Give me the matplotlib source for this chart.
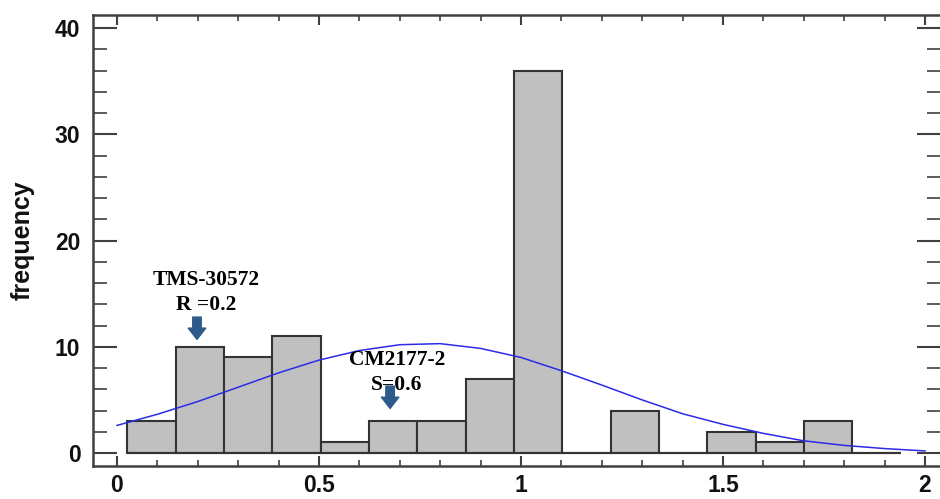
import matplotlib
matplotlib.use("Agg")
import matplotlib.pyplot as plt
import numpy as np
from matplotlib.ticker import MultipleLocator

# histogram bins
bin_edges = [0.025, 0.145, 0.264, 0.384, 0.504, 0.623, 0.743, 0.863, 0.983,
             1.102, 1.222, 1.342, 1.461, 1.581, 1.701, 1.820, 1.940]
counts = [3, 10, 9, 11, 1, 3, 3, 7, 36, 0, 4, 0, 2, 1, 3, 0]

# fitted curve
curve_x = [0.0, 0.1, 0.2, 0.3, 0.4, 0.5, 0.6, 0.7, 0.8, 0.9, 1.0,
           1.1, 1.2, 1.3, 1.4, 1.5, 1.6, 1.7, 1.8, 1.9, 2.0]
curve_y = [2.6, 3.65, 4.85, 6.2, 7.55, 8.75, 9.65, 10.2, 10.3, 9.85, 9.0,
           7.75, 6.4, 5.0, 3.7, 2.7, 1.85, 1.15, 0.72, 0.42, 0.2]

xticks = [0, 0.5, 1, 1.5, 2]
xticklabels = ["0", "0.5", "1", "1.5", "2"]
yticks = [0, 10, 20, 30, 40]

# annotations: (label, text x, text y, arrow x, arrow top, arrow bottom)
notes = [
    ("TMS-30572\nR =0.2", 0.22, 15.1, 0.198, 12.8, 10.7),
    ("CM2177-2\nS=0.6", 0.693, 7.6, 0.676, 6.3, 4.2),
]

SANS = "Liberation Sans"
SERIF = "Liberation Serif"
SPINE = "#404040"

fig = plt.figure(figsize=(9.4, 4.99), dpi=100)
ax = fig.add_axes([93 / 940, 33 / 499, 848 / 940, 451 / 499])

widths = np.diff(bin_edges)
ax.bar(bin_edges[:-1], counts, width=widths, align="edge",
       facecolor="#C0C0C0", edgecolor="#333333", linewidth=1.5, zorder=2)
ax.hlines(0, bin_edges[0], bin_edges[-1], color="#333333", linewidth=1.5, zorder=2)

ax.plot(curve_x, curve_y, color="#2B2BE8", linewidth=1.1, zorder=3)

for label, tx, ty, axx, ytop, ybot in notes:
    ax.text(tx, ty, label, ha="center", va="center", fontsize=15.5,
            fontweight="bold", family=SERIF, linespacing=1.3, zorder=4)
    ax.annotate("", xy=(axx, ybot), xytext=(axx, ytop),
                arrowprops=dict(arrowstyle="simple,head_length=0.45,head_width=0.7,tail_width=0.34",
                                mutation_scale=18, color="#2F5B8C",
                                shrinkA=0, shrinkB=0), zorder=5)

ax.set_xlim(-0.0594, 2.0396)
ax.set_ylim(-1.22, 41.24)

ax.set_xticks(xticks)
ax.set_xticklabels(xticklabels)
ax.set_yticks(yticks)
ax.xaxis.set_minor_locator(MultipleLocator(0.1))
ax.yaxis.set_minor_locator(MultipleLocator(2))

for s in ax.spines.values():
    s.set_color(SPINE)
    s.set_linewidth(1.8)

ax.tick_params(axis="both", which="both", direction="in", colors=SPINE,
               top=True, right=True)
ax.tick_params(axis="x", which="major", length=7, width=1.5, pad=6)
ax.tick_params(axis="x", which="minor", length=4, width=1.2)
ax.tick_params(axis="y", which="major", length=17, width=1.5, pad=9)
ax.tick_params(axis="y", which="minor", length=10, width=1.2)

for lab in ax.get_xticklabels() + ax.get_yticklabels():
    lab.set_fontfamily(SANS)
    lab.set_fontweight("bold")
    lab.set_fontsize(16.5)
    lab.set_color("#111111")

ax.set_ylabel("frequency", fontsize=18, fontweight="bold", family=SANS, color="#111111")
ax.yaxis.set_label_coords(-0.069, 0.501)

fig.savefig("out.png", dpi=100)
